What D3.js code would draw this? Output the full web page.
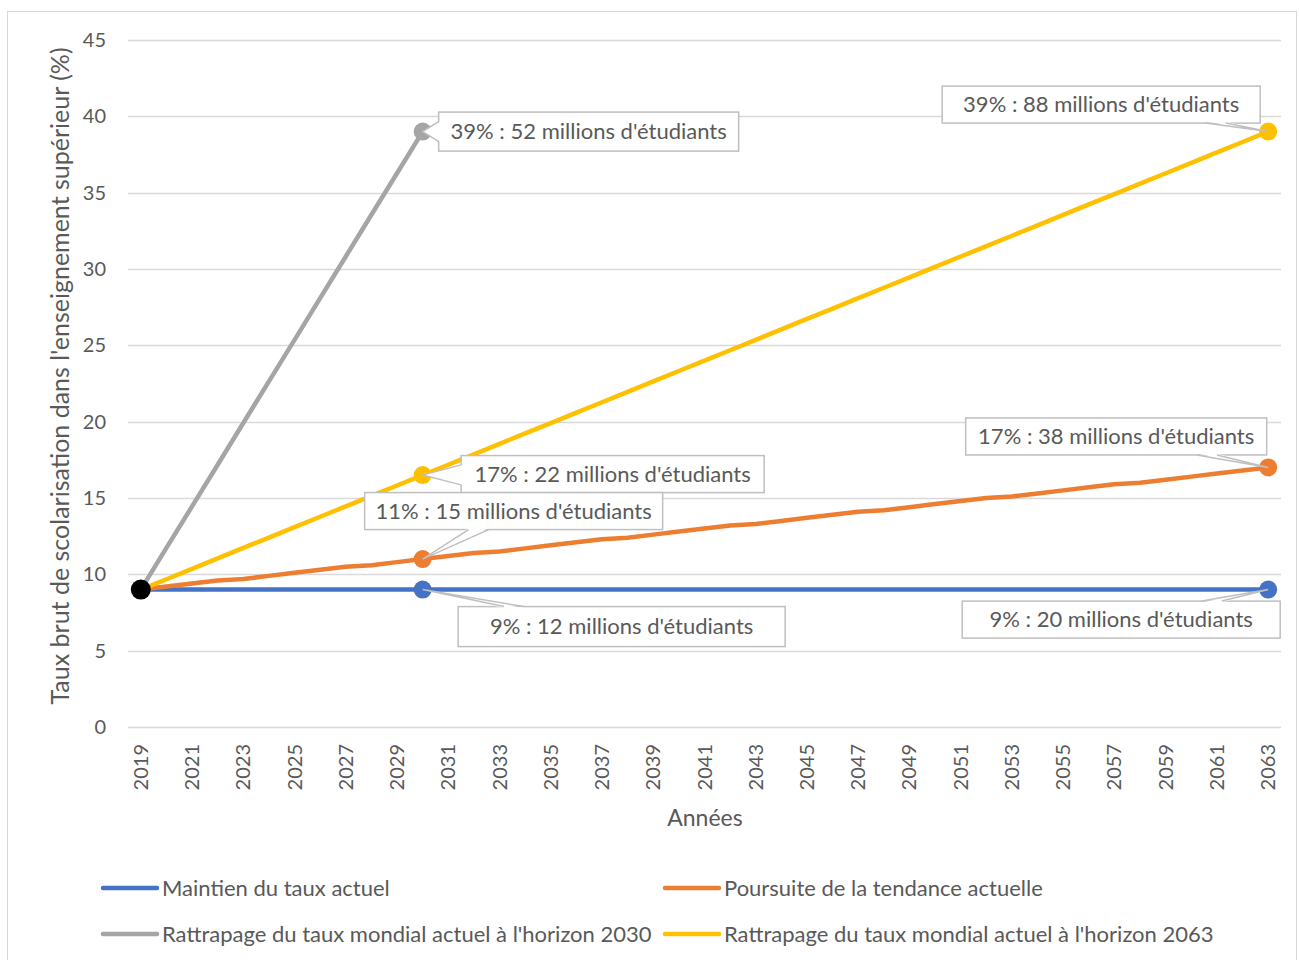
<!DOCTYPE html>
<html>
<head>
<meta charset="utf-8">
<script src="https://cdn.jsdelivr.net/npm/d3@7"></script>
<style>
  body { margin: 0; background: #fff; }
  svg text { font-family: Lato, "Open Sans", sans-serif; fill: #595959; }
</style>
</head>
<body>
<div id="viz"></div>
<script>
const years = d3.range(2019, 2064);
const yTicks = [0, 5, 10, 15, 20, 25, 30, 35, 40, 45];

const maintien = [
  9, 9, 9, 9, 9, 9, 9, 9, 9, 9, 9, 9,
  9, 9, 9, 9, 9, 9, 9, 9, 9, 9, 9,
  9, 9, 9, 9, 9, 9, 9, 9, 9, 9,
  9, 9, 9, 9, 9, 9, 9, 9, 9, 9,
  9, 9
];
const poursuite = [
  9.0, 9.2, 9.4, 9.6, 9.7, 9.9, 10.1, 10.3, 10.5, 10.6, 10.8, 11.0,
  11.2, 11.4, 11.5, 11.7, 11.9, 12.1, 12.3, 12.4, 12.6, 12.8, 13.0,
  13.2, 13.3, 13.5, 13.7, 13.9, 14.1, 14.2, 14.4, 14.6, 14.8,
  15.0, 15.1, 15.3, 15.5, 15.7, 15.9, 16.0, 16.2, 16.4, 16.6,
  16.8, 17.0
];
const rattrapage2030 = [
  9.0, 11.73, 14.45, 17.18, 19.91, 22.64, 25.36, 28.09, 30.82, 33.55, 36.27, 39.0
];
const rattrapage2063 = [
  9.0, 9.68, 10.36, 11.05, 11.73, 12.41, 13.09, 13.77, 14.45, 15.14, 15.82, 16.5,
  17.18, 17.86, 18.55, 19.23, 19.91, 20.59, 21.27, 21.95, 22.64, 23.32, 24.0,
  24.68, 25.36, 26.05, 26.73, 27.41, 28.09, 28.77, 29.45, 30.14, 30.82,
  31.5, 32.18, 32.86, 33.55, 34.23, 34.91, 35.59, 36.27, 36.95, 37.64,
  38.32, 39.0
];

const seriesNames = [
  "Maintien du taux actuel",
  "Poursuite de la tendance actuelle",
  "Rattrapage du taux mondial actuel à l'horizon 2030",
  "Rattrapage du taux mondial actuel à l'horizon 2063"
];
const seriesValues = [maintien, poursuite, rattrapage2030, rattrapage2063];
const seriesColors = ["#4472C4", "#ED7D31", "#A5A5A5", "#FFC000"];

// labelled points: series index, year, text
const labelSeries = [2, 3, 3, 1, 1, 0, 0];
const labelYears = [2030, 2063, 2030, 2030, 2063, 2030, 2063];
const labelTexts = [
  "39% : 52 millions d'étudiants",
  "39% : 88 millions d'étudiants",
  "17% : 22 millions d'étudiants",
  "11% : 15 millions d'étudiants",
  "17% : 38 millions d'étudiants",
  "9% : 12 millions d'étudiants",
  "9% : 20 millions d'étudiants"
];
// callout box placement relative to its point (px)
const labelLayout = [
  { dx: 166, dy: 0, w: 300, h: 39 },
  { dx: -167, dy: -27, w: 318, h: 37 },
  { dx: 190, dy: -1, w: 303, h: 37 },
  { dx: 91, dy: -48, w: 298, h: 37 },
  { dx: -152, dy: -31, w: 301, h: 37 },
  { dx: 199, dy: 37, w: 327, h: 40 },
  { dx: -147, dy: 30, w: 318, h: 37 }
];

const W = 1299, H = 960;
const svg = d3.select("#viz").append("svg")
  .attr("width", W).attr("height", H);

svg.append("rect")
  .attr("x", 7.5).attr("y", 11.5)
  .attr("width", 1289).attr("height", 955)
  .attr("fill", "#fff").attr("stroke", "#d9d9d9");

const x = d3.scaleBand().domain(years).range([128, 1281]);
const xc = d => x(d) + x.bandwidth() / 2;
const y = d3.scaleLinear().domain([0, 45]).range([727, 40]);

// grid
svg.append("g").selectAll("line")
  .data(yTicks).enter().append("line")
  .attr("x1", 128).attr("x2", 1281)
  .attr("y1", d => Math.round(y(d)) + 0.5).attr("y2", d => Math.round(y(d)) + 0.5)
  .attr("stroke", "#d9d9d9").attr("stroke-width", 1.5);

// y axis labels
svg.append("g").selectAll("text")
  .data(yTicks).enter().append("text")
  .attr("x", 106).attr("y", d => y(d))
  .attr("dy", "0.35em")
  .attr("text-anchor", "end")
  .style("font-size", "20px")
  .text(d => d);

// x axis labels
svg.append("g").selectAll("text")
  .data(years.filter((d, i) => i % 2 === 0)).enter().append("text")
  .attr("transform", d => `translate(${xc(d)},744) rotate(-90)`)
  .attr("dy", "0.35em")
  .attr("text-anchor", "end")
  .style("font-size", "20px")
  .text(d => d);

svg.append("text")
  .attr("x", 705).attr("y", 826)
  .attr("text-anchor", "middle")
  .style("font-size", "23px")
  .text("Années");

svg.append("text")
  .attr("transform", "translate(69,376) rotate(-90)")
  .attr("text-anchor", "middle")
  .style("font-size", "25px")
  .text("Taux brut de scolarisation dans l'enseignement supérieur (%)");

// lines
const line = d3.line()
  .defined(d => d.v != null)
  .x(d => xc(d.year))
  .y(d => y(d.v));

const drawOrder = [0, 1, 3, 2];
drawOrder.forEach(i => {
  const pts = seriesValues[i].map((v, k) => ({ year: years[k], v }));
  svg.append("path")
    .datum(pts)
    .attr("d", line)
    .attr("fill", "none")
    .attr("stroke", seriesColors[i])
    .attr("stroke-width", 4.5)
    .attr("stroke-linejoin", "round");
});

// markers at labelled points
labelSeries.forEach((s, i) => {
  const yr = labelYears[i];
  const v = seriesValues[s][years.indexOf(yr)];
  svg.append("circle")
    .attr("cx", xc(yr)).attr("cy", y(v)).attr("r", 9)
    .attr("fill", seriesColors[s]);
});

// starting point
svg.append("circle")
  .attr("cx", xc(2019)).attr("cy", y(maintien[0])).attr("r", 10)
  .attr("fill", "#000");

// callouts
labelSeries.forEach((s, i) => {
  const yr = labelYears[i];
  const px = xc(yr), py = y(seriesValues[s][years.indexOf(yr)]);
  const L = labelLayout[i];
  const cx = px + L.dx, cy = py + L.dy;
  const x0 = cx - L.w / 2, x1 = cx + L.w / 2, y0 = cy - L.h / 2, y1 = cy + L.h / 2;
  const g = svg.append("g");

  g.append("rect")
    .attr("x", x0).attr("y", y0).attr("width", L.w).attr("height", L.h)
    .attr("fill", "#fff").attr("stroke", "#bfbfbf").attr("stroke-width", 1.5);

  // wedge base on the edge facing the point
  const ddx = px - cx, ddy = py - cy;
  const tx = ddx !== 0 ? (L.w / 2) / Math.abs(ddx) : Infinity;
  const ty = ddy !== 0 ? (L.h / 2) / Math.abs(ddy) : Infinity;
  let b1, b2, f1, f2;
  const half = 10;
  if (tx < ty) {
    const ex = ddx < 0 ? x0 : x1;
    const ey = Math.max(y0 + half + 2, Math.min(y1 - half - 2, cy + ddy * tx));
    const inward = ddx < 0 ? 1.5 : -1.5;
    b1 = [ex, ey - half]; b2 = [ex, ey + half];
    f1 = [ex + inward, ey - half]; f2 = [ex + inward, ey + half];
  } else {
    const ey = ddy < 0 ? y0 : y1;
    const ex = Math.max(x0 + half + 2, Math.min(x1 - half - 2, cx + ddx * ty));
    const inward = ddy < 0 ? 1.5 : -1.5;
    b1 = [ex - half, ey]; b2 = [ex + half, ey];
    f1 = [ex - half, ey + inward]; f2 = [ex + half, ey + inward];
  }
  g.append("path")
    .attr("d", `M${f1}L${px},${py}L${f2}Z`)
    .attr("fill", "#fff");
  g.append("path")
    .attr("d", `M${b1}L${px},${py}L${b2}`)
    .attr("fill", "none").attr("stroke", "#bfbfbf").attr("stroke-width", 1.5);

  g.append("text")
    .attr("x", cx).attr("y", cy)
    .attr("dy", "0.35em")
    .attr("text-anchor", "middle")
    .style("font-size", "22px")
    .text(labelTexts[i]);
});

// legend
const legendX = [103, 665, 103, 665];
const legendY = [888, 888, 934, 934];
seriesNames.forEach((name, i) => {
  const g = svg.append("g").attr("transform", `translate(${legendX[i]},${legendY[i]})`);
  g.append("line")
    .attr("x1", 0).attr("x2", 54)
    .attr("stroke", seriesColors[i]).attr("stroke-width", 4.5)
    .attr("stroke-linecap", "round");
  g.append("text")
    .attr("x", 59).attr("dy", "0.35em")
    .style("font-size", "22px")
    .text(name);
});
</script>
</body>
</html>
